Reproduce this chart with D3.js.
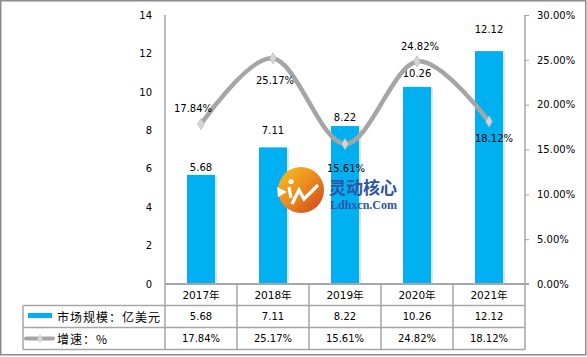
<!DOCTYPE html>
<html>
<head>
<meta charset="utf-8">
<script src="https://cdn.jsdelivr.net/npm/d3@7"></script>
<style>
  html, body { margin: 0; padding: 0; background: #fff; }
  svg { display: block; }
  text { font-family: "DejaVu Sans", "Noto Sans CJK SC", sans-serif; font-size: 10px; fill: #000; }
</style>
</head>
<body>
<svg id="chart" width="587" height="357"></svg>
<script>
// ---- data ----
const years = ["2017年", "2018年", "2019年", "2020年", "2021年"];
const marketSize = [5.68, 7.11, 8.22, 10.26, 12.12];
const growthRate = [17.84, 25.17, 15.61, 24.82, 18.12];
const leftTicks = [0, 2, 4, 6, 8, 10, 12, 14];
const rightTicks = [0, 5, 10, 15, 20, 25, 30];
const seriesNames = ["市场规模：亿美元", "增速：%"];
// label nudges (layout only)
const barLabelShift = [-7, -17, -9, -13, -22];
const rateLabelShift = [[-8, -16], [2, 22], [1, 24], [3, -15], [5, 17]];

const svg = d3.select("#chart");
const plotLeft = 165, plotRight = 525, plotTop = 15, plotBottom = 284;
const rowH = [284, 305.5, 327.5, 349.5];

const x = d3.scaleBand().domain(years).range([plotLeft, plotRight]);
const yL = d3.scaleLinear().domain([0, 14]).range([plotBottom, plotTop]);
const yR = d3.scaleLinear().domain([0, 30]).range([plotBottom, plotTop]);

const gridCol = "#a6a6a6";

// outer border
svg.append("rect").attr("x", 0.75).attr("y", 0.75).attr("width", 585).attr("height", 354)
  .attr("fill", "none").attr("stroke", "#8c8c8c").attr("stroke-width", 1.5);

// left axis
const leftAxis = d3.axisLeft(yL).tickValues(leftTicks).tickSize(0).tickPadding(13);
const gL = svg.append("g").attr("transform", `translate(${plotLeft},0)`).call(leftAxis);
gL.select(".domain").remove();
gL.selectAll("text").style("font-family", "DejaVu Sans").style("font-size", "10px");

// right axis
const rightAxis = d3.axisRight(yR).tickValues(rightTicks).tickSize(4).tickPadding(8)
  .tickFormat(d => d.toFixed(2) + "%");
const gR = svg.append("g").attr("transform", `translate(${plotRight},0)`).call(rightAxis);
gR.select(".domain").remove();
gR.selectAll("line").attr("stroke", gridCol);
gR.selectAll("text").style("font-family", "DejaVu Sans").style("font-size", "10px");

// axis lines
svg.append("line").attr("x1", plotLeft).attr("x2", plotLeft).attr("y1", plotTop).attr("y2", rowH[3])
  .attr("stroke", gridCol).attr("stroke-width", 1.5);
svg.append("line").attr("x1", plotRight).attr("x2", plotRight).attr("y1", plotTop).attr("y2", rowH[3])
  .attr("stroke", gridCol).attr("stroke-width", 1.5);

// bars
const barW = 28;
const bars = svg.append("g");
bars.selectAll("rect.shadow").data(marketSize).join("rect").attr("class", "shadow")
  .attr("x", (d, i) => x(years[i]) + x.bandwidth() / 2 - barW / 2 + 2)
  .attr("y", d => yL(d) + 1)
  .attr("width", barW).attr("height", d => plotBottom - yL(d) - 1)
  .attr("fill", "#dbe7ee");
bars.selectAll("rect.bar").data(marketSize).join("rect").attr("class", "bar")
  .attr("x", (d, i) => x(years[i]) + x.bandwidth() / 2 - barW / 2)
  .attr("y", d => yL(d))
  .attr("width", barW).attr("height", d => plotBottom - yL(d))
  .attr("fill", "#00B0F0");

// baseline
svg.append("line").attr("x1", plotLeft).attr("x2", plotRight + 4).attr("y1", plotBottom).attr("y2", plotBottom)
  .attr("stroke", gridCol).attr("stroke-width", 2);

// bar labels
svg.append("g").selectAll("text").data(marketSize).join("text")
  .attr("x", (d, i) => x(years[i]) + x.bandwidth() / 2)
  .attr("y", (d, i) => yL(d) + barLabelShift[i])
  .attr("text-anchor", "middle").attr("dominant-baseline", "central")
  .text(d => d.toFixed(2));

// watermark logo
const logo = svg.append("g");
const defs = svg.append("defs");
const grad = defs.append("linearGradient").attr("id", "lg").attr("x1", "0").attr("y1", "0").attr("x2", "1").attr("y2", "1");
grad.append("stop").attr("offset", "0").attr("stop-color", "#f7c21e");
grad.append("stop").attr("offset", "0.5").attr("stop-color", "#eb8a1f");
grad.append("stop").attr("offset", "1").attr("stop-color", "#cf3f1c");
logo.append("circle").attr("cx", 301).attr("cy", 190).attr("r", 23).attr("fill", "url(#lg)");
logo.append("path").attr("d", "M277,187 L287,192 L278,197 Z").attr("fill", "#fff");
logo.append("circle").attr("cx", 291).attr("cy", 181.5).attr("r", 2.6).attr("fill", "#fff");
logo.append("path").attr("d", "M289,187 L291,198 M292,204 L299,190 L304,199 L318,185")
  .attr("fill", "none").attr("stroke", "#fff").attr("stroke-width", 3.2).attr("stroke-linejoin", "miter");
logo.append("text").attr("x", 329).attr("y", 186).attr("dominant-baseline", "central")
  .style("font-family", "Noto Sans CJK SC").style("font-size", "17px").style("font-weight", "bold")
  .style("fill", "#2f55a4").text("灵动核心");
logo.append("text").attr("x", 330).attr("y", 205).attr("dominant-baseline", "central")
  .style("font-family", "Liberation Serif").style("font-size", "12px").style("font-weight", "bold")
  .style("fill", "#2f55a4").text("Ldhxcn.Com");

// growth line
const pts = growthRate.map((v, i) => [x(years[i]) + x.bandwidth() / 2, yR(v)]);
const line = d3.line().curve(d3.curveCardinal.tension(0));
svg.append("path").attr("d", line(pts)).attr("fill", "none")
  .attr("stroke", "#a5a5a5").attr("stroke-width", 4.5).attr("stroke-linecap", "round");
const diamond = d3.symbol().type(d3.symbolDiamond).size(36);
svg.append("g").selectAll("path").data(pts).join("path")
  .attr("transform", d => `translate(${d[0]},${d[1]})`)
  .attr("d", diamond).attr("fill", "#d4d4d4").attr("stroke", "#bcbcbc").attr("stroke-width", 0.8);

// rate labels
svg.append("g").selectAll("text").data(growthRate).join("text")
  .attr("x", (d, i) => pts[i][0] + rateLabelShift[i][0])
  .attr("y", (d, i) => pts[i][1] + rateLabelShift[i][1])
  .attr("text-anchor", "middle").attr("dominant-baseline", "central")
  .text(d => d.toFixed(2) + "%");

// data table
const tbl = svg.append("g");
tbl.append("line").attr("x1", 23).attr("x2", plotRight).attr("y1", rowH[1]).attr("y2", rowH[1]).attr("stroke", gridCol).attr("stroke-width", 1.5);
tbl.append("line").attr("x1", 23).attr("x2", plotRight).attr("y1", rowH[2]).attr("y2", rowH[2]).attr("stroke", gridCol).attr("stroke-width", 1.5);
tbl.append("line").attr("x1", 23).attr("x2", plotRight).attr("y1", rowH[3]).attr("y2", rowH[3]).attr("stroke", gridCol).attr("stroke-width", 1.5);
tbl.append("line").attr("x1", 23).attr("x2", 23).attr("y1", rowH[1]).attr("y2", rowH[3]).attr("stroke", gridCol).attr("stroke-width", 1.5);
tbl.selectAll("line.col").data(years.slice(1)).join("line").attr("class", "col")
  .attr("x1", d => x(d)).attr("x2", d => x(d)).attr("y1", plotBottom).attr("y2", rowH[3])
  .attr("stroke", gridCol).attr("stroke-width", 1.5);
tbl.selectAll("text.yr").data(years).join("text").attr("class", "yr")
  .attr("x", d => x(d) + x.bandwidth() / 2).attr("y", (rowH[0] + rowH[1]) / 2 + 0.5)
  .attr("text-anchor", "middle").attr("dominant-baseline", "central")
  .style("font-size", "10.5px").text(d => d);
tbl.selectAll("text.v1").data(marketSize).join("text").attr("class", "v1")
  .attr("x", (d, i) => x(years[i]) + x.bandwidth() / 2).attr("y", (rowH[1] + rowH[2]) / 2)
  .attr("text-anchor", "middle").attr("dominant-baseline", "central").text(d => d.toFixed(2));
tbl.selectAll("text.v2").data(growthRate).join("text").attr("class", "v2")
  .attr("x", (d, i) => x(years[i]) + x.bandwidth() / 2).attr("y", (rowH[2] + rowH[3]) / 2)
  .attr("text-anchor", "middle").attr("dominant-baseline", "central").text(d => d.toFixed(2) + "%");

// legend cells
tbl.append("rect").attr("x", 28).attr("y", 313).attr("width", 24).attr("height", 5).attr("fill", "#00B0F0");
tbl.append("line").attr("x1", 26).attr("x2", 53).attr("y1", 338.5).attr("y2", 338.5)
  .attr("stroke", "#a5a5a5").attr("stroke-width", 4).attr("stroke-linecap", "round");
tbl.append("path").attr("transform", "translate(40,338.5)").attr("d", d3.symbol().type(d3.symbolDiamond).size(24))
  .attr("fill", "#d4d4d4");
tbl.selectAll("text.lg").data(seriesNames).join("text").attr("class", "lg")
  .attr("x", 57).attr("y", (d, i) => i === 0 ? 316 : 338.5)
  .attr("dominant-baseline", "central")
  .style("font-family", "Noto Sans CJK SC").style("font-size", "12px").style("letter-spacing", "1px")
  .text(d => d);
</script>
</body>
</html>
